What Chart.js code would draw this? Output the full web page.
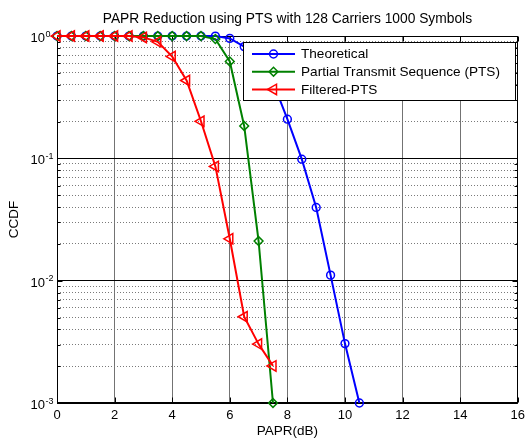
<!DOCTYPE html>
<html>
<head>
<meta charset="utf-8">
<script src="https://cdn.jsdelivr.net/npm/chart.js@4.4.1/dist/chart.umd.min.js"></script>
<style>
  html, body { margin: 0; padding: 0; background: #fff; }
  #wrap { width: 530px; height: 443px; }
</style>
</head>
<body>
<div id="wrap"><canvas id="myChart" width="530" height="443"></canvas></div>
<script>
const papr = [0, 0.5, 1, 1.5, 2, 2.5, 3, 3.5, 4, 4.5, 5, 5.5, 6, 6.5, 7, 7.5, 8, 8.5, 9, 9.5, 10, 10.5];
const theoretical = [1, 1, 1, 1, 1, 1, 1, 1, 1, 1, 1, 1, 0.957, 0.82, 0.63, 0.42, 0.209, 0.0985, 0.0397, 0.0111, 0.00306, 0.001];
const ptsCcdf = [1, 1, 1, 1, 1, 1, 1, 1, 1, 1, 1, 0.945, 0.62, 0.184, 0.0211, 0.001];
const filteredCcdf = [1, 1, 1, 1, 1, 1, 0.975, 0.898, 0.68, 0.433, 0.201, 0.086, 0.022, 0.00507, 0.00303, 0.00201];

const xTicks = [0, 2, 4, 6, 8, 10, 12, 14, 16];
const yMajorTicks = [0.001, 0.01, 0.1, 1];
const yMinorTicks = [0.002, 0.003, 0.004, 0.005, 0.006, 0.007, 0.008, 0.009,
                     0.02, 0.03, 0.04, 0.05, 0.06, 0.07, 0.08, 0.09,
                     0.2, 0.3, 0.4, 0.5, 0.6, 0.7, 0.8, 0.9];

const fontFamily = '"Liberation Sans", Arial, Helvetica, sans-serif';

function toPoints(values) {
    return values.map((v, i) => ({ x: papr[i], y: v }));
}

// box round the axes, with inward ticks like matlab
const axesBox = {
    id: 'axesBox',
    beforeDatasetsDraw(chart) {
        const { ctx, chartArea: a, scales } = chart;
        const l = Math.round(a.left) + 0.5, r = Math.round(a.right) - 0.5;
        const t = Math.round(a.top) + 0.5, b = Math.round(a.bottom) - 0.5;
        ctx.save();
        ctx.strokeStyle = '#000';
        ctx.lineWidth = 1;
        ctx.beginPath();
        scales.x.ticks.forEach(tk => {
            const px = Math.round(scales.x.getPixelForValue(tk.value)) + 0.5;
            ctx.moveTo(px, b); ctx.lineTo(px, b - 5);
            ctx.moveTo(px, t); ctx.lineTo(px, t + 5);
        });
        scales.y.ticks.forEach(tk => {
            const py = Math.round(scales.y.getPixelForValue(tk.value)) + 0.5;
            ctx.moveTo(l, py); ctx.lineTo(l + 5, py);
            ctx.moveTo(r, py); ctx.lineTo(r - 5, py);
        });
        scales.yMinor.ticks.forEach(tk => {
            const py = Math.round(scales.yMinor.getPixelForValue(tk.value)) + 0.5;
            ctx.moveTo(l, py); ctx.lineTo(l + 3, py);
            ctx.moveTo(r, py); ctx.lineTo(r - 3, py);
        });
        ctx.stroke();
        ctx.strokeRect(l, t, r - l, b - t);
        ctx.restore();
    }
};

// 10 with a raised exponent for the log axis
const yTickLabels = {
    id: 'yTickLabels',
    afterDraw(chart) {
        const s = chart.scales.y;
        const ctx = chart.ctx;
        ctx.save();
        ctx.fillStyle = '#000';
        ctx.textBaseline = 'alphabetic';
        s.ticks.forEach(tk => {
            const py = s.getPixelForValue(tk.value);
            const e = Math.round(Math.log10(tk.value));
            ctx.font = '13px ' + fontFamily;
            ctx.textAlign = 'right';
            ctx.fillText('10', 45, py + 6);
            ctx.font = '9px ' + fontFamily;
            ctx.textAlign = 'left';
            ctx.fillText(String(e), 45.5, py + 0.7);
        });
        ctx.restore();
    }
};

// boxed legend inside the top right of the plot
const boxLegend = {
    id: 'boxLegend',
    afterDatasetsDraw(chart) {
        const ctx = chart.ctx;
        const x0 = 243.5, y0 = 42.5, w = 272, h = 58;
        ctx.save();
        ctx.fillStyle = '#fff';
        ctx.fillRect(x0, y0, w, h);
        ctx.strokeStyle = '#000';
        ctx.lineWidth = 1;
        ctx.strokeRect(x0, y0, w, h);
        chart.data.datasets.forEach((ds, i) => {
            const ry = 54 + i * 17.7;
            ctx.strokeStyle = ds.borderColor;
            ctx.lineWidth = ds.borderWidth;
            ctx.beginPath();
            ctx.moveTo(252, ry);
            ctx.lineTo(295, ry);
            ctx.stroke();
            ctx.fillStyle = 'rgba(0,0,0,0)';
            ctx.lineWidth = ds.pointBorderWidth;
            Chart.helpers.drawPoint(ctx, {
                pointStyle: ds.pointStyle,
                rotation: ds.pointRotation || 0,
                radius: ds.pointRadius,
                borderWidth: ds.pointBorderWidth
            }, 273.5, ry);
            ctx.fillStyle = '#000';
            ctx.font = '13.6px ' + fontFamily;
            ctx.textAlign = 'left';
            ctx.textBaseline = 'middle';
            ctx.fillText(ds.label, 301, ry + 0.5);
        });
        ctx.restore();
    }
};

const common = {
    borderWidth: 2,
    pointBackgroundColor: 'rgba(0,0,0,0)',
    pointBorderWidth: 1.5,
    tension: 0,
    fill: false,
    clip: false
};

const ctx = document.getElementById('myChart').getContext('2d');
const chart = new Chart(ctx, {
    type: 'line',
    data: {
        datasets: [
            Object.assign({}, common, {
                label: 'Theoretical',
                data: toPoints(theoretical),
                borderColor: '#0000ff',
                pointBorderColor: '#0000ff',
                pointStyle: 'circle',
                pointRadius: 3.9,
                order: 2
            }),
            Object.assign({}, common, {
                label: 'Partial Transmit Sequence (PTS)',
                data: toPoints(ptsCcdf),
                borderColor: '#008000',
                pointBorderColor: '#008000',
                pointStyle: 'rectRot',
                pointRadius: 4.4,
                order: 1
            }),
            Object.assign({}, common, {
                label: 'Filtered-PTS',
                data: toPoints(filteredCcdf),
                borderColor: '#ff0000',
                pointBorderColor: '#ff0000',
                pointStyle: 'triangle',
                pointRotation: -90,
                pointRadius: 6,
                order: 0
            })
        ]
    },
    options: {
        responsive: false,
        animation: false,
        layout: { padding: { left: 0, right: 8, top: 0, bottom: 0 } },
        plugins: {
            legend: { display: false },
            tooltip: { enabled: false },
            title: {
                display: true,
                text: 'PAPR Reduction using PTS with 128 Carriers 1000 Symbols',
                fullSize: false,
                color: '#000',
                font: { family: fontFamily, size: 13.8, weight: 'normal', lineHeight: 1.2 },
                padding: { top: 11, bottom: 8.5 }
            }
        },
        scales: {
            x: {
                type: 'linear',
                min: 0,
                max: 16,
                afterBuildTicks: s => { s.ticks = xTicks.map(v => ({ value: v })); },
                afterFit: s => { s.height = 40; },
                grid: {
                    color: c => (c.tick && (c.tick.value === 0 || c.tick.value === 16)) ? 'rgba(0,0,0,0)' : '#737373',
                    lineWidth: 1,
                    drawTicks: false
                },
                border: { display: false },
                ticks: {
                    color: '#000',
                    font: { family: fontFamily, size: 13 },
                    padding: 5,
                    maxRotation: 0,
                    autoSkip: false,
                    callback: v => String(v)
                },
                title: {
                    display: true,
                    text: 'PAPR(dB)',
                    color: '#000',
                    font: { family: fontFamily, size: 13.5 },
                    padding: { top: 0, bottom: 4 }
                }
            },
            y: {
                type: 'logarithmic',
                position: 'left',
                min: 0.001,
                max: 1,
                afterBuildTicks: s => { s.ticks = yMajorTicks.map(v => ({ value: v, major: true })); },
                afterFit: s => { s.width = 57; },
                grid: { color: '#000', lineWidth: 1, drawTicks: false },
                border: { display: false },
                ticks: { display: false },
                title: {
                    display: true,
                    text: 'CCDF',
                    color: '#000',
                    font: { family: fontFamily, size: 13.5 },
                    padding: { top: 6, bottom: 0 }
                }
            },
            yMinor: {
                type: 'logarithmic',
                position: 'left',
                min: 0.001,
                max: 1,
                afterBuildTicks: s => { s.ticks = yMinorTicks.map(v => ({ value: v })); },
                afterFit: s => { s.width = 0; },
                grid: { color: '#7a7a7a', lineWidth: 1, drawTicks: false },
                border: { display: false, dash: [1, 2] },
                ticks: { display: false }
            }
        }
    },
    plugins: [axesBox, boxLegend, yTickLabels]
});
</script>
</body>
</html>
